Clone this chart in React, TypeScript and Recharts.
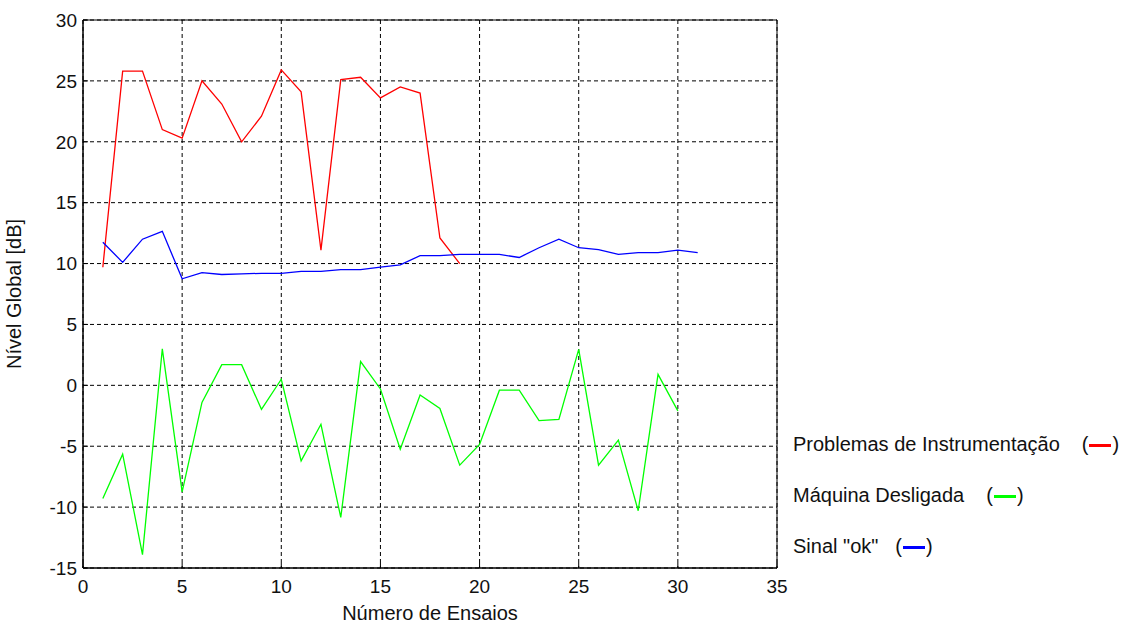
import { LineChart, Line, XAxis, YAxis, CartesianGrid, ReferenceArea } from 'recharts';

// ensaio number 1..31
const ensaios = [1, 2, 3, 4, 5, 6, 7, 8, 9, 10, 11, 12, 13, 14, 15, 16, 17, 18, 19, 20, 21, 22, 23, 24, 25, 26, 27, 28, 29, 30, 31];

const instrumentacao = [9.7, 25.8, 25.8, 21.0, 20.3, 25.0, 23.1, 20.0, 22.1, 25.9, 24.1, 11.1, 25.1, 25.3, 23.6, 24.5, 24.0, 12.1, 10.0];

const desligada = [-9.3, -5.65, -13.9, 3.0, -8.75, -1.4, 1.7, 1.7, -1.97, 0.5, -6.2, -3.2, -10.85, 1.95, -0.3, -5.25, -0.8, -1.9, -6.55, -4.85, -0.4, -0.4, -2.9, -2.8, 2.95, -6.55, -4.5, -10.3, 0.9, -2.1];

const sinalOk = [11.75, 10.1, 12.0, 12.65, 8.75, 9.25, 9.1, 9.15, 9.2, 9.2, 9.35, 9.35, 9.5, 9.5, 9.7, 9.9, 10.65, 10.65, 10.75, 10.75, 10.75, 10.5, 11.3, 12.0, 11.3, 11.15, 10.75, 10.9, 10.9, 11.1, 10.9];

const xTicks = [0, 5, 10, 15, 20, 25, 30, 35];
const yTicks = [-15, -10, -5, 0, 5, 10, 15, 20, 25, 30];

const legendItems = [
  { label: 'Problemas de Instrumentação', color: '#ff0000', gap: 22 },
  { label: 'Máquina Desligada', color: '#00ff00', gap: 22 },
  { label: 'Sinal "ok"', color: '#0000ff', gap: 17 },
];

const rows = ensaios.map((n, i) => ({
  n,
  red: instrumentacao[i],
  green: desligada[i],
  blue: sinalOk[i],
}));

const font = 'Arial, "Liberation Sans", sans-serif';

export default function App() {
  return (
    <div style={{ position: 'absolute', left: 0, top: 0, width: 1128, height: 626, background: '#fff', fontFamily: font }}>
      <LineChart width={1128} height={626} data={rows} margin={{ top: 20, right: 351, bottom: 0, left: 0 }}>
        <CartesianGrid stroke="#000" strokeDasharray="4 3" />
        <XAxis
          dataKey="n"
          type="number"
          domain={[0, 35]}
          ticks={xTicks}
          height={58}
          stroke="#000"
          tickSize={-5}
          tick={{ fill: '#111', fontSize: 19, fontFamily: font, dy: 15 }}
          label={{ value: 'Número de Ensaios', position: 'insideBottom', offset: 6, fill: '#111', fontSize: 20, fontFamily: font }}
        />
        <YAxis
          type="number"
          domain={[-15, 30]}
          ticks={yTicks}
          width={83}
          stroke="#000"
          tickSize={-5}
          tick={{ fill: '#111', fontSize: 19, fontFamily: font, dx: -9 }}
          label={{ value: 'Nível Global [dB]', angle: -90, position: 'insideLeft', offset: 14, fill: '#111', fontSize: 20, fontFamily: font, style: { textAnchor: 'middle' } }}
        />
        <ReferenceArea x1={0} x2={35} y1={-15} y2={30} fill="none" stroke="#000" strokeOpacity={1} ifOverflow="visible" />
        <Line dataKey="red" stroke="#ff0000" strokeWidth={1.3} dot={false} isAnimationActive={false} />
        <Line dataKey="green" stroke="#00ff00" strokeWidth={1.3} dot={false} isAnimationActive={false} />
        <Line dataKey="blue" stroke="#0000ff" strokeWidth={1.3} dot={false} isAnimationActive={false} />
      </LineChart>
      {legendItems.map((item, i) => (
        <div
          key={item.label}
          style={{ position: 'absolute', left: 793, top: 433 + i * 51, fontSize: 20, color: '#111', whiteSpace: 'nowrap', lineHeight: '22px' }}
        >
          {item.label}
          <span style={{ marginLeft: item.gap }}>(</span>
          <span style={{ display: 'inline-block', width: 22, height: 3, background: item.color, verticalAlign: 'middle', margin: '0 1px' }} />
          <span>)</span>
        </div>
      ))}
    </div>
  );
}
